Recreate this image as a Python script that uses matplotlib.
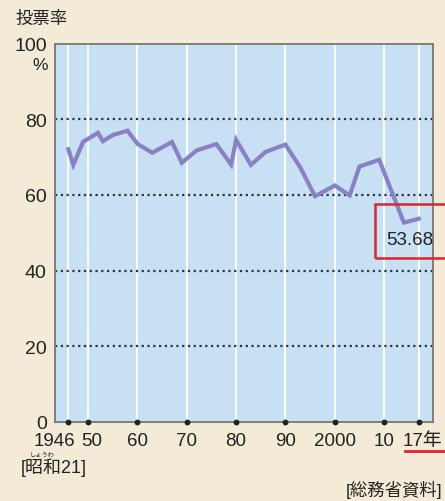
import matplotlib
matplotlib.use('Agg')
from matplotlib import pyplot as plt
from matplotlib.patches import Rectangle
from matplotlib.lines import Line2D
from matplotlib.transforms import ScaledTranslation

# turnout of general elections (House of Representatives)
years = [1946, 1947, 1949, 1952, 1953, 1955, 1958, 1960, 1963, 1967, 1969, 1972, 1976,
         1979, 1980, 1983, 1986, 1990, 1993, 1996, 2000, 2003, 2005, 2009, 2012, 2014, 2017]
turnout = [72.08, 67.95, 74.04, 76.43, 74.22, 75.84, 76.99, 73.51, 71.14, 73.99, 68.51,
           71.76, 73.45, 68.01, 74.57, 67.94, 71.40, 73.31, 67.26, 59.65, 62.49, 59.86,
           67.51, 69.28, 59.32, 52.66, 53.68]
tick_years = [1946, 1950, 1960, 1970, 1980, 1990, 2000, 2010, 2017]
tick_labels = ['1946', '50', '60', '70', '80', '90', '2000', '10', '17年']
y_ticks = [0, 20, 40, 60, 80, 100]

fonts = ['Liberation Sans', 'Noto Sans CJK JP', 'DejaVu Sans']
jp_fonts = ['Noto Sans CJK JP', 'DejaVu Sans']
plt.rcParams['font.family'] = fonts

bg = '#f3ead8'
fig = plt.figure(figsize=(4.45, 5.02), dpi=100, facecolor=bg)
ax = fig.add_axes([55 / 445, 1 - 422.7 / 502, 378 / 445, 378 / 502])
ax.set_facecolor('#c8e0f4')
ax.set_xlim(1943.3, 2019.9)
ax.set_ylim(0, 100)

for s in ax.spines.values():
    s.set_color('#777777')
    s.set_linewidth(1.3)

# white vertical guides
for t in tick_years:
    ax.axvline(t, color='white', lw=1.3, zorder=1)
# dotted horizontal guides
for v in [20, 40, 60, 80]:
    ax.axhline(v, color='#333333', lw=1.6, linestyle=(0, (1, 1.6)), zorder=1)

ax.plot(years, turnout, color='#8a81c5', lw=3, solid_joinstyle='miter', zorder=3)

# tick dots on the axis
ax.plot(tick_years, [0] * len(tick_years), 'o', color='#222222', ms=3.2,
        clip_on=False, zorder=5)

ax.set_xticks([])
ax.set_yticks(y_ticks)
ax.set_yticklabels([str(v) for v in y_ticks], fontsize=14, color='#222222')
ax.tick_params(axis='y', length=0, pad=6)

# x labels, placed by hand like the original
offsets = {'1946': -10, '50': 2.5, '17年': 3}
for t, lab in zip(tick_years, tick_labels):
    dx = offsets.get(lab, 0)
    tr = ax.get_xaxis_transform() + ScaledTranslation(dx / 72, 0, fig.dpi_scale_trans)
    ax.text(t, -0.027, lab, transform=tr, ha='center', va='top', fontsize=13.5,
            color='#222222', family=fonts)

ax.text(-0.02, 0.945, '%', transform=ax.transAxes, ha='right', va='center',
        fontsize=12.5, color='#222222')

fig.text(15 / 445, 1 - 19 / 502, '投票率', ha='left', va='center', fontsize=12.5,
         color='#222222', family=jp_fonts)
fig.text(21 / 445, 1 - 468 / 502, '[昭和21]', ha='left', va='center', fontsize=13,
         color='#222222', family=fonts)
fig.text(30 / 445, 1 - 455 / 502, 'しょうわ', ha='left', va='center', fontsize=4.5,
         color='#222222', family=jp_fonts)
fig.text(442 / 445, 1 - 490 / 502, '[総務省資料]', ha='right', va='center', fontsize=12.5,
         color='#222222', family=fonts)

# value label and red highlight box
ax.text(2015.1, 48.2, '53.68', ha='center', va='center', fontsize=13.5,
        color='#222222', zorder=6)
fig.patches.append(Rectangle((375 / 445, 1 - 259 / 502), 80 / 445, 54 / 502,
                             transform=fig.transFigure, fill=False,
                             edgecolor='#d7262e', lw=1.8, zorder=10))
fig.lines.append(Line2D([405 / 445, 1.0], [1 - 452 / 502] * 2, transform=fig.transFigure,
                        color='#d7262e', lw=2))

fig.savefig('out.png', dpi=100, facecolor=bg)
